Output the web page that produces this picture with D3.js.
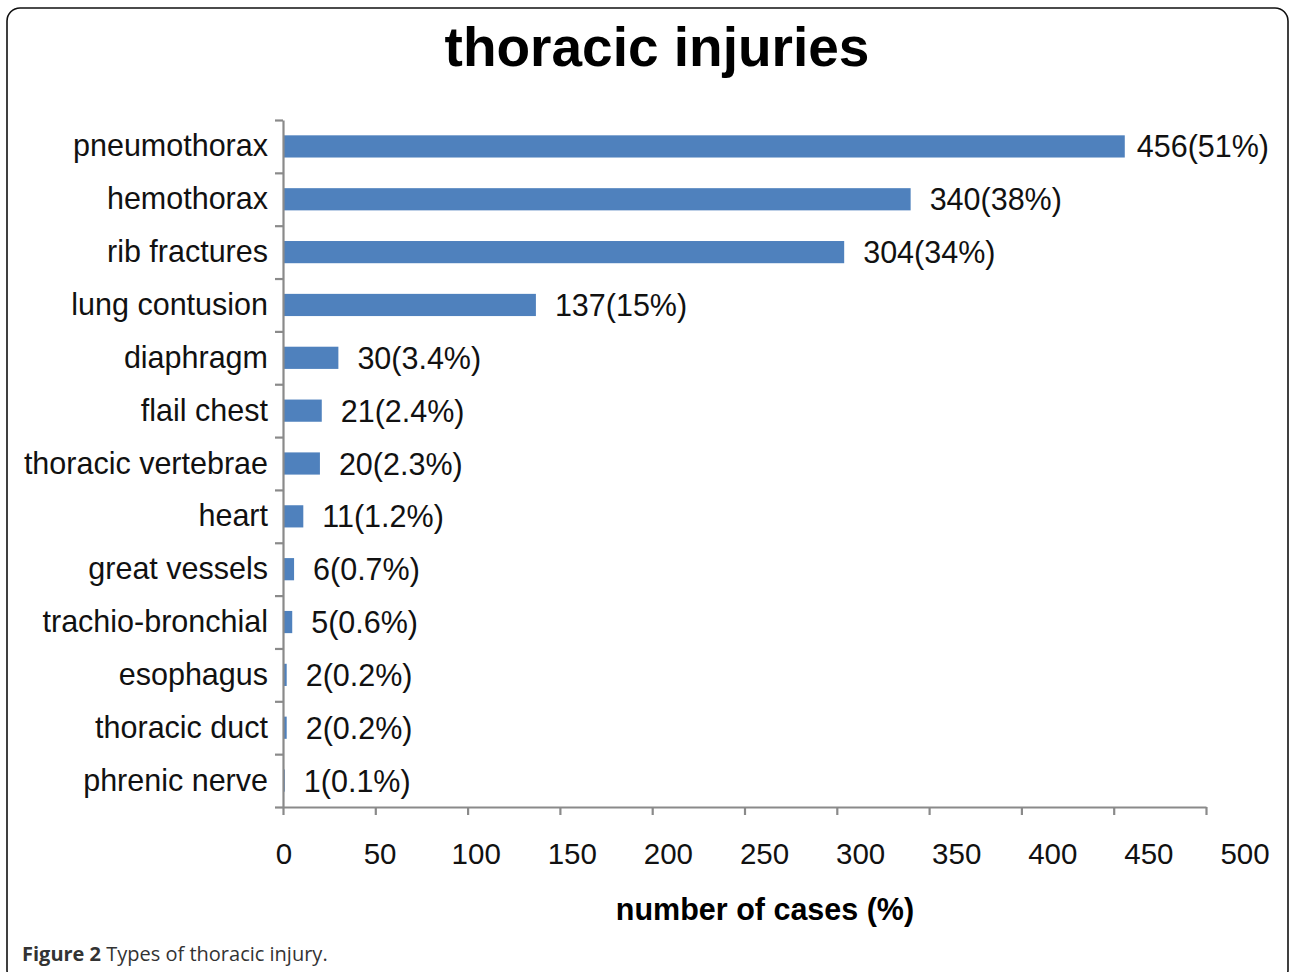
<!DOCTYPE html>
<html>
<head>
<meta charset="utf-8">
<script src="https://cdn.jsdelivr.net/npm/d3@7"></script>
<style>
  body { margin: 0; background: #fff; }
  svg text { font-family: "Liberation Sans", Arial, Helvetica, sans-serif; }
</style>
</head>
<body>
<div id="chart"></div>
<script>
// données
const categories = ["pneumothorax", "hemothorax", "rib fractures", "lung contusion", "diaphragm", "flail chest",
    "thoracic vertebrae", "heart", "great vessels", "trachio-bronchial", "esophagus", "thoracic duct", "phrenic nerve"];
const cases = [456, 340, 304, 137, 30, 21, 20, 11, 6, 5, 2, 2, 1];
const percents = ["51%", "38%", "34%", "15%", "3.4%", "2.4%", "2.3%", "1.2%", "0.7%", "0.6%", "0.2%", "0.2%", "0.1%"];
const xTicks = [0, 50, 100, 150, 200, 250, 300, 350, 400, 450, 500];

const W = 1290, H = 972;
const svg = d3.select("#chart").append("svg").attr("width", W).attr("height", H);

// cadre arrondi
svg.append("rect")
    .attr("x", 7).attr("y", 8).attr("width", 1281).attr("height", 975)
    .attr("rx", 13).attr("fill", "none").attr("stroke", "#111").attr("stroke-width", 1.6);

const plotLeft = 283, plotRight = 1206, plotTop = 120, plotBottom = 807;

const x = d3.scaleLinear().domain([0, 500]).range([plotLeft, plotRight]);
// les libellés de l'axe x sont un peu décalés dans l'original
const xLabel = d3.scaleLinear().domain([0, 500]).range([284, 1245]);
const y = d3.scaleBand().domain(categories).range([plotTop, plotBottom]).paddingInner(0.58).paddingOuter(0.29);
const yIdx = d3.scaleLinear().domain([0, categories.length]).range([plotTop, plotBottom]);

const data = categories.map((c, i) => ({ name: c, n: cases[i], pct: percents[i] }));

// titre
svg.append("text")
    .attr("x", 657).attr("y", 66)
    .attr("text-anchor", "middle")
    .style("font-size", "55px").style("font-weight", "bold")
    .text("thoracic injuries");

// barres
svg.selectAll("rect.bar")
    .data(data)
    .enter()
    .append("rect")
    .attr("class", "bar")
    .attr("x", x(0))
    .attr("y", (d) => y(d.name))
    .attr("width", (d) => x(d.n) - x(0))
    .attr("height", y.bandwidth())
    .attr("fill", "#4f81bd");

// étiquettes des valeurs
svg.selectAll("text.val")
    .data(data)
    .enter()
    .append("text")
    .attr("class", "val")
    .attr("x", (d) => x(d.n) + (d.n > 400 ? 12 : 19))
    .attr("y", (d) => y(d.name) + y.bandwidth() / 2 + 11)
    .style("font-size", "30.5px")
    .attr("fill", "#111")
    .text((d) => `${d.n}(${d.pct})`);

// noms des catégories
svg.selectAll("text.cat")
    .data(data)
    .enter()
    .append("text")
    .attr("class", "cat")
    .attr("x", 268)
    .attr("y", (d) => y(d.name) + y.bandwidth() / 2 + 10)
    .attr("text-anchor", "end")
    .style("font-size", "30.5px")
    .attr("fill", "#111")
    .text((d) => d.name);

// axe y (graduations entre les catégories)
const yAxis = svg.append("g")
    .attr("transform", `translate(${plotLeft},0)`)
    .call(d3.axisLeft(yIdx).tickValues(d3.range(0, categories.length + 1)).tickFormat("").tickSizeInner(8).tickSizeOuter(0));

// axe x
const xAxis = svg.append("g")
    .attr("transform", `translate(0,${plotBottom})`)
    .call(d3.axisBottom(x).tickValues(xTicks).tickFormat("").tickSizeInner(8).tickSizeOuter(0));

[yAxis, xAxis].forEach((g) => {
    g.selectAll("path, line").attr("stroke", "#8a8a8a").attr("stroke-width", 2.2);
});

svg.selectAll("text.xt")
    .data(xTicks)
    .enter()
    .append("text")
    .attr("class", "xt")
    .attr("x", (d) => xLabel(d))
    .attr("y", 864)
    .attr("text-anchor", "middle")
    .style("font-size", "29.5px")
    .attr("fill", "#111")
    .text((d) => d);

svg.append("text")
    .attr("x", 765).attr("y", 920)
    .attr("text-anchor", "middle")
    .style("font-size", "30.5px").style("font-weight", "bold")
    .text("number of cases (%)");

// légende de la figure
const cap = svg.append("text")
    .attr("x", 22).attr("y", 961)
    .attr("fill", "#333")
    .style("font-family", "'Open Sans', 'DejaVu Sans', sans-serif")
    .style("font-size", "20px");
cap.append("tspan").style("font-weight", "bold").text("Figure 2");
cap.append("tspan").text(" Types of thoracic injury.");
</script>
</body>
</html>
